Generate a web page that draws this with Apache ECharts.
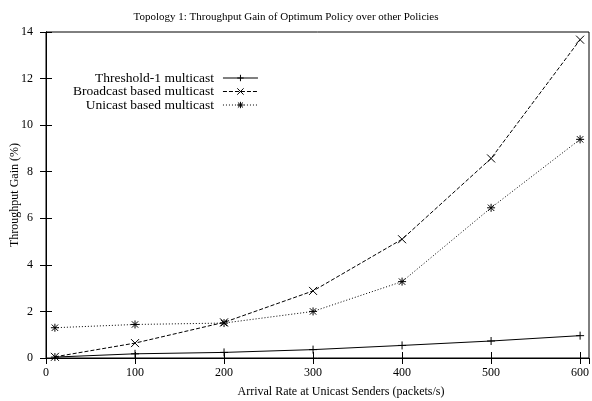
<!DOCTYPE html>
<html>
<head>
<meta charset="utf-8">
<script src="https://cdn.jsdelivr.net/npm/echarts@6/dist/echarts.min.js"></script>
<style>
  html, body { margin: 0; padding: 0; background: #fff; }
  #main { width: 592px; height: 401px; }
</style>
</head>
<body>
<div id="main"></div>
<script>
// arrival rate (packets/s)
const rates = [10, 100, 200, 300, 400, 500, 600];
// throughput gain (%)
const threshold1 = [0.04, 0.18, 0.24, 0.36, 0.54, 0.73, 0.96];
const broadcast = [0.05, 0.64, 1.53, 2.88, 5.1, 8.57, 13.67];
const unicast = [1.3, 1.44, 1.5, 2.0, 3.28, 6.45, 9.39];
const seriesNames = ['Threshold-1 multicast', 'Broadcast based multicast', 'Unicast based multicast'];

const font = 'Liberation Serif, Times New Roman, serif';
const pair = (ys) => rates.map((x, i) => [x, ys[i]]);

// gnuplot style point symbols
const plusSym = 'path://M0,5 L10,5 M5,0 L5,10';
const crossSym = 'path://M1,1 L9,9 M9,1 L1,9';
const starSym = 'path://M0,5 L10,5 M5,0 L5,10 M1,1 L9,9 M9,1 L1,9';

const chart = echarts.init(document.getElementById('main'));

const axisCommon = {
  axisLine: { show: true, lineStyle: { color: '#000', width: 1 } },
  axisTick: { show: true, inside: true, length: 6, lineStyle: { color: '#000' } },
  splitLine: { show: false }
};

function mkSeries(name, ys, sym, dash) {
  return {
    name: name,
    type: 'line',
    data: pair(ys),
    symbol: sym,
    symbolSize: 8,
    showAllSymbol: true,
    lineStyle: { color: '#000', width: 1, type: dash },
    itemStyle: { color: 'none', borderColor: '#000', borderWidth: 1 },
    emphasis: { disabled: true },
    animation: false
  };
}

chart.setOption({
  backgroundColor: '#fff',
  title: [
    {
      text: 'Topology 1: Throughput Gain of Optimum Policy over other Policies',
      left: 281, top: 7, textAlign: 'center',
      textStyle: { fontFamily: font, fontSize: 11, fontWeight: 'normal', color: '#000' }
    },
    {
      text: 'Arrival Rate at Unicast Senders (packets/s)',
      left: 336, top: 381, textAlign: 'center',
      textStyle: { fontFamily: font, fontSize: 12, fontWeight: 'normal', color: '#000' }
    }
  ],
  legend: {
    orient: 'vertical',
    align: 'right',
    left: 73,
    top: 71,
    padding: 0,
    itemWidth: 35,
    itemHeight: 8,
    itemGap: -0.5,
    data: seriesNames,
    lineStyle: { width: 1 },
    itemStyle: { borderWidth: 1 },
    textStyle: { fontFamily: font, fontSize: 13.5, color: '#000', padding: [0, 4, 0, 0] }
  },
  grid: {
    left: 46, right: 3, top: 32, bottom: 43,
    outerBoundsMode: 'none',
    containLabel: false,
    show: true, borderColor: '#000', borderWidth: 1
  },
  xAxis: [
    Object.assign({
      type: 'value', min: 0, max: 610, interval: 100,
      axisLabel: { showMaxLabel: false, margin: 9, fontFamily: font, fontSize: 12, color: '#000' }
    }, axisCommon),
    Object.assign({
      type: 'value', position: 'top', min: 0, max: 610, interval: 100,
      axisLabel: { show: false }
    }, axisCommon)
  ],
  yAxis: [
    Object.assign({
      type: 'value', min: 0, max: 14, interval: 2,
      name: 'Throughput Gain (%)', nameLocation: 'middle', nameGap: 25,
      nameMoveOverlap: false,
      nameTextStyle: { fontFamily: font, fontSize: 12, color: '#000' },
      axisLabel: { margin: 13, fontFamily: font, fontSize: 12, color: '#000' }
    }, axisCommon),
    Object.assign({
      type: 'value', position: 'right', min: 0, max: 14, interval: 2,
      axisLabel: { show: false }
    }, axisCommon)
  ],
  series: [
    mkSeries(seriesNames[0], threshold1, plusSym, 'solid'),
    mkSeries(seriesNames[1], broadcast, crossSym, [4, 2]),
    mkSeries(seriesNames[2], unicast, starSym, [1, 2])
  ]
});
</script>
</body>
</html>
